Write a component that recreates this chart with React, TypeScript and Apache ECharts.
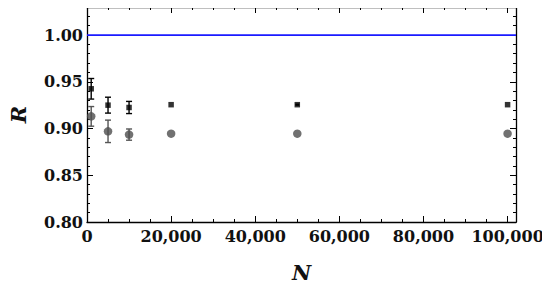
import React, { useEffect, useRef } from "react";
import * as echarts from "echarts";

const nValues = [1000, 5000, 10000, 20000, 50000, 100000];
const squareMean = [0.9425, 0.925, 0.9225, 0.9255, 0.9255, 0.9255];
const squareErr = [0.011, 0.0085, 0.0065, 0, 0.0012, 0];
const circleMean = [0.913, 0.897, 0.8935, 0.8945, 0.8945, 0.8945];
const circleErr = [0.0105, 0.012, 0.006, 0, 0, 0];
const refLine = 1.0;

const FONT = "DejaVu Serif";

function errorSeries(mean: number[], err: number[], color: string) {
  return {
    type: "custom",
    xAxisIndex: 0,
    yAxisIndex: 0,
    silent: true,
    z: 3,
    data: nValues.map((n, i) => [n, mean[i] - err[i], mean[i] + err[i], err[i]]),
    renderItem: (params: any, api: any) => {
      const e = api.value(3);
      if (!e) return { type: "group", children: [] };
      const lo = api.coord([api.value(0), api.value(1)]);
      const hi = api.coord([api.value(0), api.value(2)]);
      const cap = e < 0.002 ? 0 : 3;
      const st = { stroke: color, lineWidth: 1.4 };
      const children: any[] = [
        { type: "line", shape: { x1: lo[0], y1: lo[1], x2: hi[0], y2: hi[1] }, style: { ...st, lineWidth: e < 0.002 ? 4 : 1.4 } },
      ];
      if (cap) {
        children.push(
          { type: "line", shape: { x1: lo[0] - cap, y1: lo[1], x2: lo[0] + cap, y2: lo[1] }, style: st },
          { type: "line", shape: { x1: hi[0] - cap, y1: hi[1], x2: hi[0] + cap, y2: hi[1] }, style: st }
        );
      }
      return { type: "group", children };
    },
  };
}

export default function App() {
  const ref = useRef<HTMLDivElement>(null);
  useEffect(() => {
    if (!ref.current) return;
    const chart = echarts.init(ref.current, null, { renderer: "svg" });
    const labelStyle = {
      fontFamily: FONT,
      fontWeight: "bold" as const,
      fontSize: 16,
      color: "#111",
    };
    const nameStyle = { fontFamily: FONT, fontStyle: "italic", fontWeight: "bold", fontSize: 21, color: "#111" };
    const commonX = {
      type: "value",
      min: 0,
      max: 102000,
      interval: 20000,
      splitLine: { show: false },
      axisLine: { show: true, onZero: false, lineStyle: { color: "#000", width: 1.3 } },
      axisTick: { show: true, inside: true, length: 6, lineStyle: { color: "#000", width: 1 } },
      minorTick: { show: true, splitNumber: 4, length: 3, lineStyle: { color: "#000", width: 1 } },
    };
    const commonY = {
      type: "value",
      min: 0.8,
      max: 1.03,
      interval: 0.05,
      splitLine: { show: false },
      axisLine: { show: true, onZero: false, lineStyle: { color: "#000", width: 1.3 } },
      axisTick: { show: true, inside: true, length: 6, lineStyle: { color: "#000", width: 1 } },
      minorTick: { show: true, splitNumber: 5, length: 3, lineStyle: { color: "#000", width: 1 } },
    };
    chart.setOption({
      animation: false,
      backgroundColor: "#fff",
      grid: { left: 85, right: 34, top: 7, bottom: 66, containLabel: false },
      xAxis: [
        {
          ...commonX,
          position: "bottom",
          name: "N",
          nameLocation: "middle",
          nameGap: 40,
          nameTextStyle: nameStyle,
          axisLabel: {
            ...labelStyle,
            margin: 6,
            showMaxLabel: false,
            formatter: (v: number) => (v > 100000 ? "" : v.toLocaleString("en-US")),
          },
        },
        { ...commonX, position: "top", axisLabel: { show: false } },
      ],
      yAxis: [
        {
          ...commonY,
          position: "left",
          name: "R",
          nameLocation: "middle",
          nameRotate: 90,
          nameGap: 58,
          nameTextStyle: nameStyle,
          axisLabel: {
            ...labelStyle,
            margin: 4,
            showMaxLabel: false,
            formatter: (v: number) => (v > 1.001 ? "" : v.toFixed(2)),
          },
        },
        { ...commonY, position: "right", axisLabel: { show: false } },
      ],
      series: [
        {
          type: "line",
          data: [[0, refLine], [102000, refLine]],
          symbol: "none",
          lineStyle: { color: "#1a1aff", width: 1.8 },
          silent: true,
          z: 2,
        },
        errorSeries(circleMean, circleErr, "#555"),
        errorSeries(squareMean, squareErr, "#000"),
        {
          type: "scatter",
          data: nValues.map((n, i) => [n, circleMean[i]]),
          symbol: "circle",
          symbolSize: 8.5,
          itemStyle: { color: "#4d4d4d" },
          z: 4,
        },
        {
          type: "scatter",
          data: nValues.map((n, i) => [n, squareMean[i]]),
          symbol: "rect",
          symbolSize: 5.5,
          itemStyle: { color: "#000" },
          z: 5,
        },
      ],
    });
    return () => chart.dispose();
  }, []);
  return <div ref={ref} style={{ width: 550, height: 288, margin: -8 }} />;
}
